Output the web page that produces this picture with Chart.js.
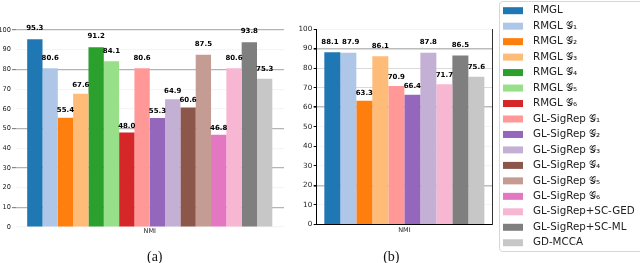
<!DOCTYPE html>
<html><head><meta charset="utf-8">
<script src="https://cdn.jsdelivr.net/npm/chart.js@4"></script>
<style>
html,body{margin:0;padding:0;background:#fff;}
#wrap{position:relative;width:640px;height:263px;overflow:hidden;background:#fff;}
#ca{position:absolute;left:0;top:0;}
#cb{position:absolute;left:298px;top:0;}
</style></head><body>
<div id="wrap"><canvas id="ca" width="298" height="263"></canvas><canvas id="cb" width="342" height="263"></canvas></div>
<script>
// ---- data ----
const categories = ['NMI'];
const methods = ['RMGL','RMGL 𝒢₁','RMGL 𝒢₂','RMGL 𝒢₃','RMGL 𝒢₄','RMGL 𝒢₅','RMGL 𝒢₆',
  'GL-SigRep 𝒢₁','GL-SigRep 𝒢₂','GL-SigRep 𝒢₃','GL-SigRep 𝒢₄','GL-SigRep 𝒢₅','GL-SigRep 𝒢₆',
  'GL-SigRep+SC-GED','GL-SigRep+SC-ML','GD-MCCA'];
const valuesA = [95.3, 80.6, 55.4, 67.6, 91.2, 84.1, 48.0, 80.6, 55.3, 64.9, 60.6, 87.5, 46.8, 80.6, 93.8, 75.3];
const valuesB = [88.1, 87.9, 63.3, 86.1, null, null, null, 70.9, 66.4, 87.8, null, null, null, 71.7, 86.5, 75.6];
const yMin = 0, yMax = 100, yStep = 10;
const captions = ['(a)', '(b)'];

// ---- styles ----
const colors = ['#1f77b4','#aec7e8','#ff7f0e','#ffbb78','#2ca02c','#98df8a','#d62728','#ff9896',
  '#9467bd','#c5b0d5','#8c564b','#c49c94','#e377c2','#f7b6d2','#7f7f7f','#c7c7c7'];
const strongGridA = [100, 80, 50, 30, 10];
const strongGridB = [90, 60, 20];
const midGridB = [80, 70];
const FONT = '"DejaVu Sans", "Noto Sans", sans-serif';

// value labels above bars (at 1.05 x value), nudged apart when neighbours collide
const valueLabels = {
  id: 'valueLabels',
  afterDatasetsDraw(chart) {
    const ctx = chart.ctx, y = chart.scales.y;
    ctx.save();
    ctx.font = 'bold 7px ' + FONT;
    ctx.fillStyle = '#000';
    ctx.textAlign = 'center';
    ctx.textBaseline = 'alphabetic';
    const items = [];
    chart.data.datasets.forEach((ds, i) => {
      const meta = chart.getDatasetMeta(i);
      meta.data.forEach((el, j) => {
        const v = ds.data[j];
        if (v == null) return;
        const t = v.toFixed(1);
        items.push({ t, x: el.x, y: y.getPixelForValue(v * 1.05), w: ctx.measureText(t).width });
      });
    });
    items.sort((a, b) => a.x - b.x);
    const gap = 3.5;
    for (let k = 1; k < items.length; k++) {
      const p = items[k - 1], q = items[k];
      if (Math.abs(p.y - q.y) < 6) {
        const need = (p.w + q.w) / 2 + gap - (q.x - p.x);
        if (need > 0) { p.x -= need / 2; q.x += need / 2; }
      }
    }
    items.forEach(it => ctx.fillText(it.t, it.x, it.y));
    ctx.restore();
  }
};

const caption = {
  id: 'caption',
  afterDraw(chart, args, opts) {
    const ctx = chart.ctx, a = chart.chartArea;
    ctx.save();
    ctx.font = '14px "Liberation Serif", "DejaVu Serif", serif';
    ctx.fillStyle = '#111';
    ctx.textAlign = 'center';
    ctx.textBaseline = 'middle';
    ctx.fillText(opts.text, (a.left + a.right) / 2 + opts.dx, a.bottom + opts.dy);
    ctx.restore();
  }
};

const legendBox = {
  id: 'legendBox',
  afterDraw(chart, args, opts) {
    const ctx = chart.ctx, a = chart.chartArea;
    const x0 = a.right + 7.5, top = 1.5, h = 250, w = 200;
    ctx.save();
    ctx.fillStyle = '#fff';
    ctx.strokeStyle = '#d6d6d6';
    ctx.lineWidth = 1;
    ctx.beginPath();
    ctx.roundRect(x0, top, w, h, 3);
    ctx.fill();
    ctx.stroke();
    ctx.font = '10.3px ' + FONT;
    ctx.textBaseline = 'middle';
    ctx.textAlign = 'left';
    methods.forEach((m, i) => {
      const cy = 10.7 + i * 15.47;
      ctx.fillStyle = colors[i];
      ctx.fillRect(x0 + 3.5, cy - 3.5, 20, 7);
      ctx.fillStyle = '#222';
      ctx.fillText(m, x0 + 33.5, cy);
    });
    ctx.restore();
  }
};

function makeDatasets(values, skip) {
  return methods.map((m, i) => ({
    label: m,
    data: [values[i]],
    backgroundColor: colors[i],
    borderWidth: 0,
    barPercentage: 1,
    categoryPercentage: 0.913,
    skipNull: skip
  }));
}

new Chart(document.getElementById('ca'), {
  type: 'bar',
  data: { labels: categories, datasets: makeDatasets(valuesA, false) },
  plugins: [valueLabels, caption],
  options: {
    responsive: false, animation: false,
    layout: { padding: { top: 30, right: 14, left: 0, bottom: 0 } },
    plugins: { legend: { display: false }, tooltip: { enabled: false },
      caption: { text: captions[0], dx: 5, dy: 30 } },
    scales: {
      x: {
        grid: { display: false, drawTicks: false },
        border: { display: false },
        ticks: { font: { family: 'DejaVu Sans', size: 6.5 }, color: '#222', padding: 0 },
        afterFit(s) { s.height = 36; }
      },
      y: {
        min: yMin, max: yMax,
        ticks: { stepSize: yStep, font: { family: 'DejaVu Sans', size: 6.6 }, color: '#222', padding: 1 },
        grid: {
          color: c => (c.tick && strongGridA.includes(c.tick.value)) ? '#b4b4b4' : 'rgba(0,0,0,0.04)',
          tickColor: c => (c.tick && strongGridA.includes(c.tick.value)) ? '#888' : 'rgba(0,0,0,0)',
          tickLength: 3.5, lineWidth: 1.2
        },
        border: { display: false },
        afterFit(s) { s.width = 15.5; }
      }
    }
  }
});

new Chart(document.getElementById('cb'), {
  type: 'bar',
  data: { labels: categories, datasets: makeDatasets(valuesB, true) },
  plugins: [valueLabels, caption, legendBox],
  options: {
    responsive: false, animation: false,
    layout: { padding: { top: 29, right: 148, left: 0, bottom: 0 } },
    plugins: { legend: { display: false }, tooltip: { enabled: false },
      caption: { text: captions[1], dx: -13, dy: 32.5 } },
    scales: {
      x: {
        grid: { display: true, drawOnChartArea: false, drawTicks: false, color: 'rgba(0,0,0,0)' },
        border: { display: true, color: '#000', width: 1 },
        ticks: { font: { family: 'DejaVu Sans', size: 6.5 }, color: '#222', padding: 1.5 },
        afterFit(s) { s.height = 38.5; }
      },
      y: {
        min: yMin, max: yMax,
        ticks: { stepSize: yStep, font: { family: 'DejaVu Sans', size: 7.2 }, color: '#222', padding: 1.5 },
        grid: {
          color: c => !c.tick ? 'rgba(0,0,0,0)' : strongGridB.includes(c.tick.value) ? '#bdbdbd' : midGridB.includes(c.tick.value) ? '#dadada' : 'rgba(0,0,0,0.04)',
          lineWidth: c => (c.tick && strongGridB.includes(c.tick.value)) ? 1.6 : 1,
          tickColor: '#000', tickLength: 3
        },
        border: { display: true, color: '#000', width: 1 },
        afterFit(s) { s.width = 18.7; }
      },
      y2: {
        position: 'right', min: yMin, max: yMax,
        grid: { display: true, drawOnChartArea: false, drawTicks: false, color: 'rgba(0,0,0,0)' },
        ticks: { display: false },
        border: { display: true, color: '#333', width: 1 },
        afterFit(s) { s.width = 0; }
      }
    }
  }
});
</script>
</body></html>
